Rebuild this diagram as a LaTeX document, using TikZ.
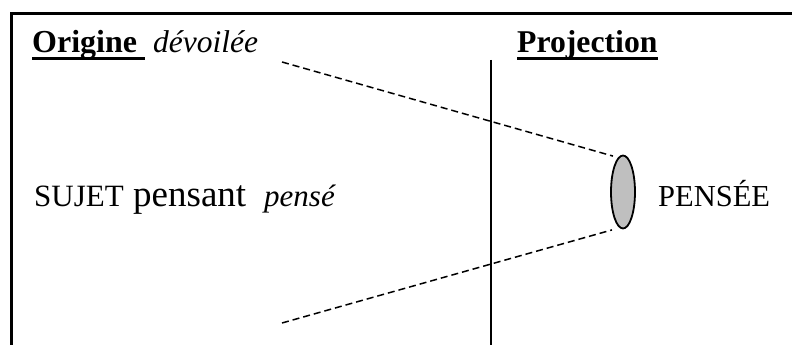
\documentclass[tikz,border=0pt]{standalone}
\usepackage{fontspec}
\setmainfont{Liberation Serif}
\usetikzlibrary{shapes.geometric, positioning, calc}
\tikzstyle{label} = [inner sep=0pt, anchor=base west]
\tikzstyle{ray} = [line width=1.5pt, dash pattern=on 7pt off 4pt]
\tikzstyle{underline} = [line width=2.2pt]
\newcommand{\sz}[1]{\fontsize{#1}{#1}\selectfont}

\begin{document}
\begin{tikzpicture}[x=1pt, y=1pt]
  \useasboundingbox (0,0) rectangle (792,345);
  % frame
  \draw[line width=3.5pt] (11.5,0) -- (11.5,331.5) -- (792,331.5);
  % screen
  \coordinate (screentop) at (491,285);
  \coordinate (screenbot) at (491,0);
  \draw[line width=1.5pt] (screentop) -- (screenbot);

  % headers
  \node[label] (origine) at (32,292) {\sz{32}\bfseries Origine};
  \node[label] (devoilee) at (153,292) {\sz{31.5}\itshape dévoilée};
  \node[label] (projection) at (517,292) {\sz{31.7}\bfseries Projection};
  \draw[underline] ($(origine.base west)+(0,-5.5)$) -- ($(devoilee.base west)+(-8,-5.5)$);
  \draw[underline] ($(projection.base west)+(0,-5.5)$) -- ($(projection.base east)+(0,-5.5)$);

  % subject
  \node[label] (sujet) at (34,138) {\sz{31}SUJET};
  \node[label] (pensant) at (133,138) {\sz{37}pensant};
  \node[label] (pense) at (264,138) {\sz{31}\itshape pensé};

  % thought
  \node[ellipse, draw, line width=1.8pt, fill=gray!50, minimum width=24pt, minimum height=73pt, inner sep=0pt] (lens) at (623,153) {};
  \node[label] (pensee) at (658,138) {\sz{30.5}PENSÉE};

  % rays
  \coordinate (raytop) at (282,283);
  \coordinate (raybot) at (282,22);
  \draw[ray] (raytop) -- ($(lens.north)+(-10,-1.5)$);
  \draw[ray] (raybot) -- ($(lens.south)+(-11,-0.5)$);
\end{tikzpicture}
\end{document}
